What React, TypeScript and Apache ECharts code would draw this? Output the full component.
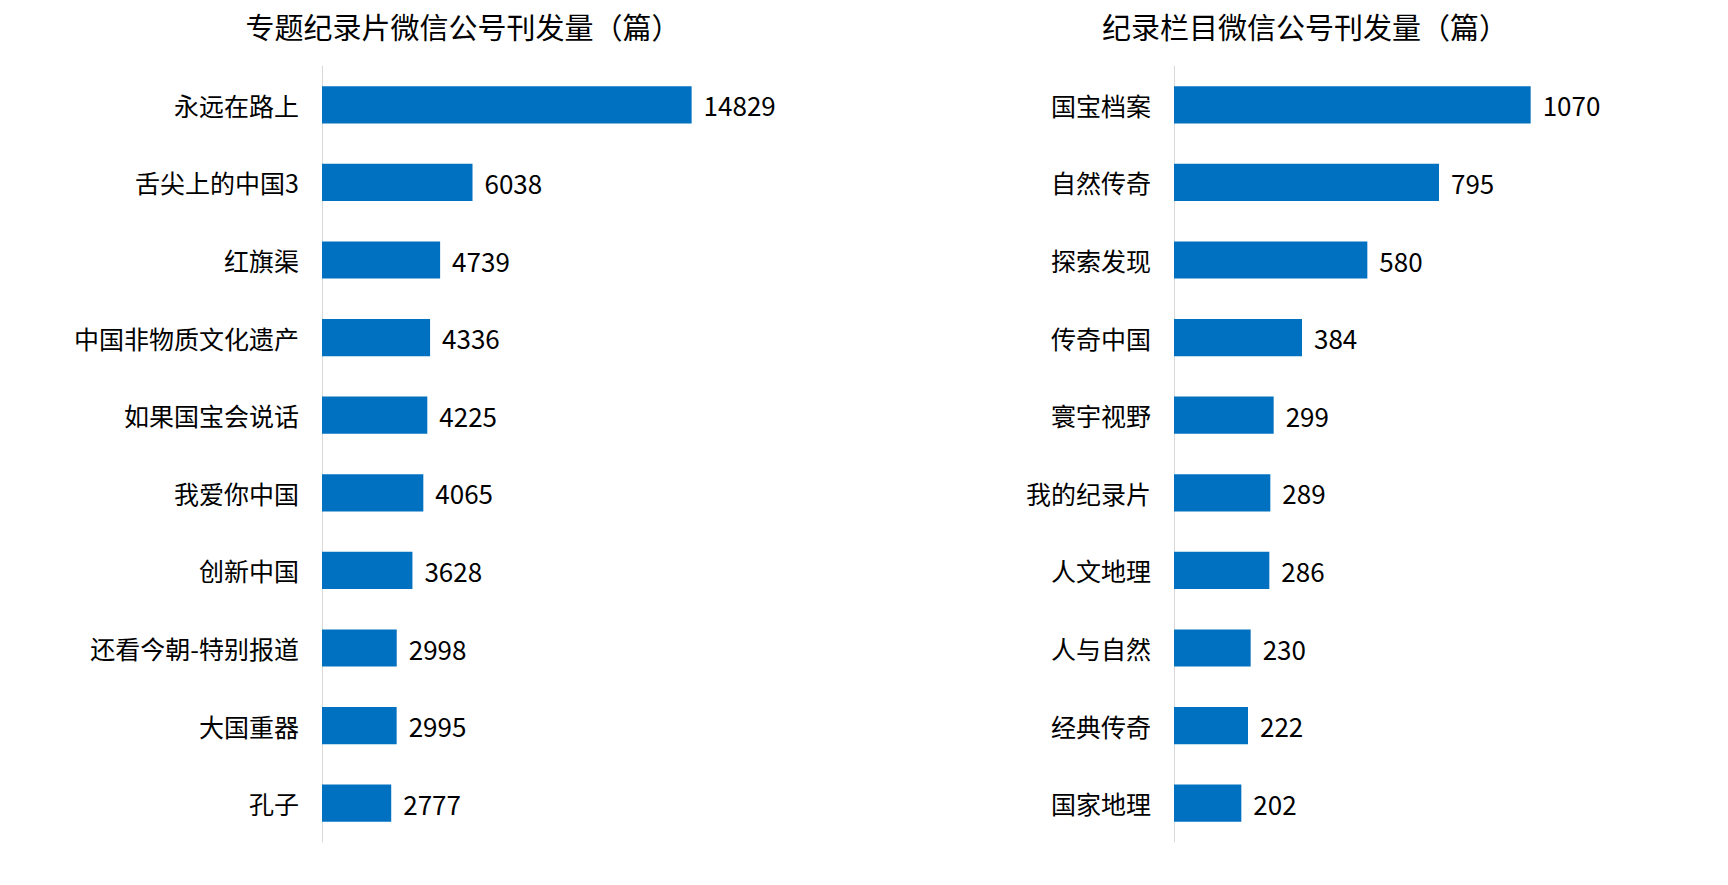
import React, { useEffect, useRef } from "react";
import * as echarts from "echarts";

const leftTitle = "专题纪录片微信公号刊发量（篇）";
const leftCategories = ["永远在路上", "舌尖上的中国3", "红旗渠", "中国非物质文化遗产", "如果国宝会说话", "我爱你中国", "创新中国", "还看今朝-特别报道", "大国重器", "孔子"];
const leftValues = [14829, 6038, 4739, 4336, 4225, 4065, 3628, 2998, 2995, 2777];

const rightTitle = "纪录栏目微信公号刊发量（篇）";
const rightCategories = ["国宝档案", "自然传奇", "探索发现", "传奇中国", "寰宇视野", "我的纪录片", "人文地理", "人与自然", "经典传奇", "国家地理"];
const rightValues = [1070, 795, 580, 384, 299, 289, 286, 230, 222, 202];

const FONT = "'Noto Sans CJK SC', 'Noto Sans', sans-serif";
const BAR = "#0070C0";

export default function App() {
  const ref = useRef<HTMLDivElement>(null);
  useEffect(() => {
    if (!ref.current) return;
    const chart = echarts.init(ref.current, null, { renderer: "svg" });
    const yAxisCommon = {
      type: "category" as const,
      inverse: true,
      axisTick: { show: false },
      axisLine: { show: true, lineStyle: { color: "#d9d9d9", width: 1 } },
      axisLabel: { color: "#000", fontSize: 25, fontFamily: FONT, margin: 23 },
    };
    const xAxisCommon = {
      type: "value" as const,
      min: 0,
      show: false,
      splitLine: { show: false },
    };
    const labelCommon = {
      show: true,
      position: "right" as const,
      distance: 12,
      color: "#000",
      fontSize: 26,
      fontFamily: FONT,
    };
    const titleStyle = { fontSize: 29, fontWeight: "normal" as const, color: "#000", fontFamily: FONT };
    chart.setOption({
      animation: false,
      backgroundColor: "#fff",
      title: [
        { text: leftTitle, left: 460, top: 8, padding: 3, textAlign: "center", textStyle: titleStyle },
        { text: rightTitle, left: 1302, top: 8, padding: 3, textAlign: "center", textStyle: titleStyle },
      ],
      grid: [
        { left: 322, top: 66, width: 503, height: 776 },
        { left: 1174, top: 66, width: 500, height: 776 },
      ],
      xAxis: [
        { ...xAxisCommon, gridIndex: 0, max: 20180 },
        { ...xAxisCommon, gridIndex: 1, max: 1500 },
      ],
      yAxis: [
        { ...yAxisCommon, gridIndex: 0, data: leftCategories },
        { ...yAxisCommon, gridIndex: 1, data: rightCategories },
      ],
      series: [
        { type: "bar", xAxisIndex: 0, yAxisIndex: 0, data: leftValues, barCategoryGap: "52%", itemStyle: { color: BAR }, label: labelCommon },
        { type: "bar", xAxisIndex: 1, yAxisIndex: 1, data: rightValues, barCategoryGap: "52%", itemStyle: { color: BAR }, label: labelCommon },
      ],
    });
    return () => chart.dispose();
  }, []);
  return <div ref={ref} style={{ width: 1728, height: 885, margin: -8 }} />;
}
